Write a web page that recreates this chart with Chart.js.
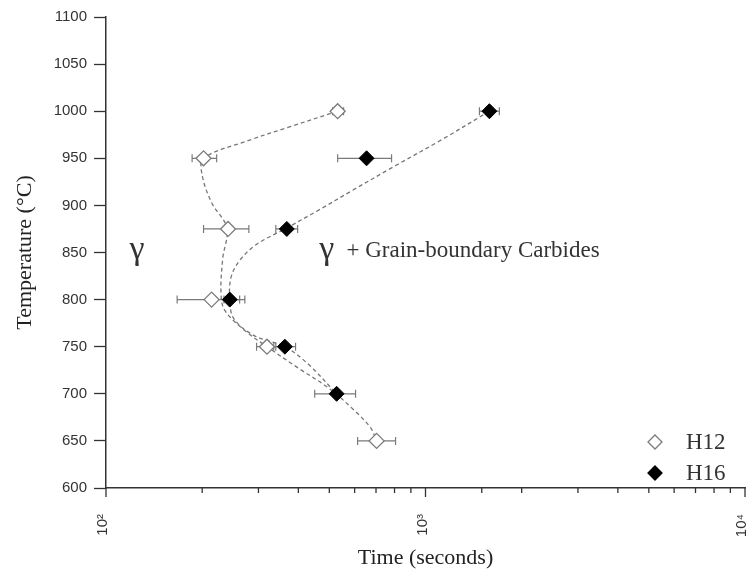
<!DOCTYPE html>
<html>
<head>
<meta charset="utf-8">
<script src="https://cdn.jsdelivr.net/npm/chart.js@4.4.0/dist/chart.umd.min.js"></script>
<style>
  html, body { margin: 0; padding: 0; background: #fff; }
  #wrap { width: 748px; height: 571px; }
</style>
</head>
<body>
<div id="wrap"><canvas id="ttpChart" width="748" height="571"></canvas></div>
<script>
// H12 measurements (time in s, temperature in °C, error range)
const h12Temp = [1000, 950, 875, 800, 750, 650];
const h12Time = [531, 202, 241, 214, 319, 703];
const h12Low  = [512, 186, 202, 167, 296, 613];
const h12High = [554, 222, 280, 272, 340, 806];

// H16 measurements
const h16Temp = [1000, 950, 875, 800, 750, 700];
const h16Time = [1585, 654, 368, 244, 363, 527];
const h16Low  = [1475, 531, 340, 234, 335, 450];
const h16High = [1703, 783, 398, 262, 392, 604];

// dashed guide curves
const h12CurveTime = [531, 373, 280, 202, 200, 214, 239, 232, 229, 235, 270, 319, 401, 498, 596, 673, 703];
const h12CurveTemp = [1000, 983, 969, 950, 932, 903, 876, 844, 808, 789, 768, 750, 727, 706, 683, 664, 650];
const h16CurveTime = [1585, 1114, 794, 591, 463, 368, 294, 260, 246, 244, 251, 290, 363, 431, 527];
const h16CurveTemp = [1000, 969, 941, 916, 895, 876, 858, 840, 823, 800, 780, 762, 750, 731, 700];

// axis ticks
const xTickValues = [100, 1000, 10000];
const xTickLabels = ['10²', '10³', '10⁴'];
const yMin = 600, yMax = 1100, yStep = 50;

const serif = "'Liberation Serif', 'Times New Roman', serif";
const sans = "'Liberation Sans', Arial, sans-serif";

const toPts = (xs, ys) => xs.map((x, i) => ({ x: x, y: ys[i] }));

// error bars under the markers
const errorBars = {
    id: 'errorBars',
    beforeDatasetsDraw: (chart) => {
        const ctx = chart.ctx;
        const xs = chart.scales.x, ys = chart.scales.y;
        ctx.save();
        ctx.strokeStyle = '#7a7a7a';
        ctx.lineWidth = 1.2;
        chart.data.datasets.forEach(ds => {
            if (!ds.errLow) return;
            ds.data.forEach((p, i) => {
                const y = ys.getPixelForValue(p.y);
                const x1 = xs.getPixelForValue(ds.errLow[i]);
                const x2 = xs.getPixelForValue(ds.errHigh[i]);
                ctx.beginPath();
                ctx.moveTo(x1, y); ctx.lineTo(x2, y);
                ctx.moveTo(x1, y - 4); ctx.lineTo(x1, y + 4);
                ctx.moveTo(x2, y - 4); ctx.lineTo(x2, y + 4);
                ctx.stroke();
            });
        });
        ctx.restore();
    }
};

// log ticks + rotated decade labels, legend and phase labels
const decor = {
    id: 'decor',
    afterDraw: (chart) => {
        const ctx = chart.ctx;
        const xs = chart.scales.x, ys = chart.scales.y;
        const area = chart.chartArea;
        ctx.save();

        // x ticks (outside, minor shorter)
        ctx.strokeStyle = '#333';
        ctx.lineWidth = 1.3;
        xs.ticks.forEach(t => {
            const x = xs.getPixelForValue(t.value);
            const major = Math.abs(Math.log10(t.value) % 1) < 1e-9;
            ctx.beginPath();
            ctx.moveTo(x, area.bottom);
            ctx.lineTo(x, area.bottom + (major ? 9 : 5));
            ctx.stroke();
        });

        // decade labels, rotated
        ctx.fillStyle = '#333';
        ctx.font = '15px ' + sans;
        ctx.textAlign = 'right';
        ctx.textBaseline = 'middle';
        xTickValues.forEach((v, i) => {
            const x = xs.getPixelForValue(v);
            ctx.save();
            ctx.translate(x - 3, area.bottom + 26);
            ctx.rotate(-Math.PI / 2);
            ctx.fillText(xTickLabels[i], 0, 0);
            ctx.restore();
        });

        // legend
        const diamond = (cx, cy, r, fill, stroke) => {
            ctx.beginPath();
            ctx.moveTo(cx, cy - r); ctx.lineTo(cx + r, cy);
            ctx.lineTo(cx, cy + r); ctx.lineTo(cx - r, cy);
            ctx.closePath();
            ctx.fillStyle = fill; ctx.fill();
            ctx.strokeStyle = stroke; ctx.lineWidth = 1.3; ctx.stroke();
        };
        const lx = area.right - 90;
        diamond(lx, area.bottom - 46, 7, '#fff', '#7a7a7a');
        diamond(lx, area.bottom - 15, 7, '#000', '#000');
        ctx.fillStyle = '#333';
        ctx.font = '23px ' + serif;
        ctx.textAlign = 'left';
        ctx.textBaseline = 'middle';
        ctx.fillText('H12', area.right - 59, area.bottom - 45);
        ctx.fillText('H16', area.right - 59, area.bottom - 14);

        // phase field labels
        ctx.textBaseline = 'alphabetic';
        ctx.font = '34px ' + serif;
        ctx.textAlign = 'center';
        ctx.fillText('γ', xs.getPixelForValue(125), ys.getPixelForValue(843));
        ctx.fillText('γ', xs.getPixelForValue(491), ys.getPixelForValue(843));
        ctx.font = '23px ' + serif;
        ctx.textAlign = 'left';
        ctx.fillText('+ Grain-boundary Carbides', xs.getPixelForValue(566), ys.getPixelForValue(845));
        ctx.restore();
    }
};

new Chart(document.getElementById('ttpChart').getContext('2d'), {
    type: 'scatter',
    data: {
        datasets: [
            { label: 'H16', data: toPts(h16Time, h16Temp), errLow: h16Low, errHigh: h16High,
              pointStyle: 'rectRot', pointRadius: 7.5, backgroundColor: '#000', borderColor: '#000', borderWidth: 1, order: 0 },
            { label: 'H12', data: toPts(h12Time, h12Temp), errLow: h12Low, errHigh: h12High,
              pointStyle: 'rectRot', pointRadius: 7.5, backgroundColor: '#fff', borderColor: '#7a7a7a', borderWidth: 1.3, order: 1 },
            { label: 'H12 guide', data: toPts(h12CurveTime, h12CurveTemp), showLine: true, pointRadius: 0,
              borderColor: '#777', borderWidth: 1.3, borderDash: [4, 3], tension: 0.35, fill: false, order: 3 },
            { label: 'H16 guide', data: toPts(h16CurveTime, h16CurveTemp), showLine: true, pointRadius: 0,
              borderColor: '#777', borderWidth: 1.3, borderDash: [4, 3], tension: 0.35, fill: false, order: 4 }
        ]
    },
    options: {
        responsive: false,
        animation: false,
        layout: { autoPadding: false, padding: { top: 17, right: 3, left: 0, bottom: 0 } },
        plugins: { legend: { display: false }, tooltip: { enabled: false } },
        scales: {
            x: {
                type: 'logarithmic',
                min: 100,
                max: 10000,
                ticks: { display: false },
                grid: { display: false },
                border: { color: '#333', width: 1.5 },
                title: { display: true, text: 'Time (seconds)', color: '#222',
                         font: { family: serif, size: 22 }, padding: { top: 0, bottom: 0 } },
                afterFit: (s) => { s.height = 83; }
            },
            y: {
                min: yMin,
                max: yMax,
                ticks: { stepSize: yStep, color: '#333', padding: 7, font: { family: sans, size: 15 },
                         callback: (v) => String(v) },
                grid: { drawOnChartArea: false, tickLength: 12, tickColor: '#333', tickWidth: 1.3 },
                border: { color: '#333', width: 1.5 },
                title: { display: true, text: 'Temperature (°C)', color: '#222',
                         font: { family: serif, size: 22 }, padding: { top: 12, bottom: 0 } },
                afterFit: (s) => { s.width = 106; }
            }
        }
    },
    plugins: [errorBars, decor]
});
</script>
</body>
</html>
